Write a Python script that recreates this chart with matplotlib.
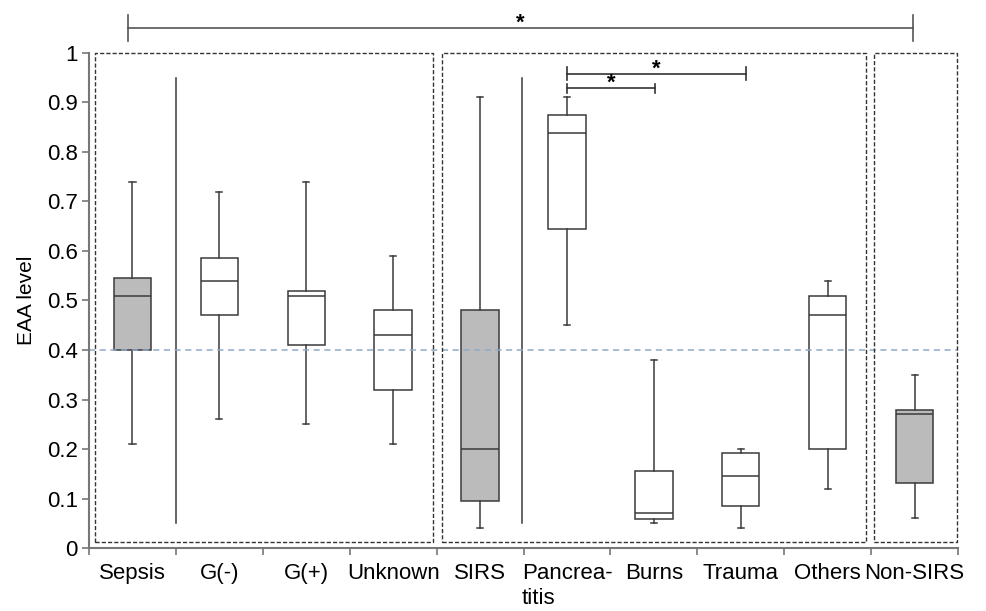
import numpy as np
import matplotlib
matplotlib.use('Agg')
from matplotlib import pyplot as plt

plt.rcParams['font.family'] = ['Liberation Sans', 'DejaVu Sans']

labels = ['Sepsis', 'G(-)', 'G(+)', 'Unknown', 'SIRS', 'Pancrea-\ntitis',
          'Burns', 'Trauma', 'Others', 'Non-SIRS']
whislo = [0.21, 0.26, 0.25, 0.21, 0.04, 0.45, 0.05, 0.04, 0.12, 0.06]
q1 = [0.40, 0.47, 0.41, 0.32, 0.095, 0.645, 0.058, 0.085, 0.20, 0.131]
med = [0.51, 0.54, 0.51, 0.43, 0.20, 0.839, 0.071, 0.145, 0.47, 0.27]
q3 = [0.545, 0.585, 0.52, 0.48, 0.48, 0.874, 0.156, 0.193, 0.51, 0.279]
whishi = [0.74, 0.72, 0.74, 0.59, 0.91, 0.91, 0.38, 0.20, 0.54, 0.35]
shaded = ['Sepsis', 'SIRS', 'Non-SIRS']
cutoff = 0.4

edge = '#3a3a3a'
fig = plt.figure(figsize=(9.86, 6.11), dpi=100)
ax = fig.add_axes([0.0903, 0.103, 0.8813, 0.8104])

stats = []
for i in range(len(labels)):
    stats.append({'whislo': whislo[i], 'q1': q1[i], 'med': med[i], 'q3': q3[i],
                  'whishi': whishi[i], 'fliers': []})
pos = np.arange(len(labels))
bp = ax.bxp(stats, positions=pos, widths=0.43, patch_artist=True, showfliers=False,
            boxprops=dict(edgecolor=edge, linewidth=1.1),
            medianprops=dict(color=edge, linewidth=1.1),
            whiskerprops=dict(color=edge, linewidth=1.1),
            capprops=dict(color=edge, linewidth=1.1), capwidths=0.07)
for patch, lab in zip(bp['boxes'], labels):
    patch.set_facecolor('#bbbbbb' if lab in shaded else 'white')

# separator lines between group box and subgroups
ax.plot([0.5, 0.5], [0.05, 0.95], color=edge, lw=1.1)
ax.plot([4.48, 4.48], [0.05, 0.95], color=edge, lw=1.1)

# cut-off line
ax.axhline(cutoff, color='#8fa9c9', ls=(0, (4, 3)), lw=1.1)

# dashed group frames
for x0, x1 in [(-0.43, 3.46), (3.56, 8.44), (8.53, 9.49)]:
    ax.plot([x0, x1, x1, x0, x0], [0.012, 0.012, 1.0, 1.0, 0.012],
            color='#333333', ls=(0, (3, 1.5)), lw=1.0, clip_on=False)

# significance brackets
def bracket(xa, xb, y, h, col):
    ax.plot([xa, xb], [y, y], color=col, lw=1.2, clip_on=False)
    ax.plot([xa, xa], [y - h, y + h], color=col, lw=1.2, clip_on=False)
    ax.plot([xb, xb], [y - h, y + h], color=col, lw=1.2, clip_on=False)
    ax.text((xa + xb) / 2, y - 0.012, '*', ha='center', va='bottom',
            fontsize=16, fontweight='bold', clip_on=False)

bracket(-0.05, 8.98, 1.05, 0.026, '#555555')
bracket(5.0, 7.06, 0.958, 0.013, '#333333')
bracket(5.0, 6.01, 0.929, 0.009, '#333333')

ax.set_xlim(-0.5, 9.5)
ax.set_ylim(0, 1)
ax.set_yticks(np.arange(0, 1.01, 0.1))
ax.set_yticklabels(['0'] + ['%.1f' % v for v in np.arange(0.1, 0.95, 0.1)] + ['1'])
ax.set_xticks(np.arange(-0.5, 9.6, 1.0))
ax.set_xticklabels([])
ax.set_xticks(pos, minor=True)
ax.set_xticklabels(labels, minor=True, multialignment='left')
ax.tick_params(axis='x', which='minor', length=0, pad=11, labelsize=16)
ax.tick_params(axis='x', which='major', length=5, width=1.2, color='#777777')
ax.tick_params(axis='y', length=5, width=1.2, color='#777777', labelsize=16, pad=3)
for lab in ax.get_xticklabels(minor=True):
    lab.set_va('top')
ax.set_ylabel('EAA level', fontsize=15, labelpad=8)
for s in ['top', 'right']:
    ax.spines[s].set_visible(False)
for s in ['left', 'bottom']:
    ax.spines[s].set_color('#777777')
    ax.spines[s].set_linewidth(1.5)

fig.savefig('out.png', dpi=100)
